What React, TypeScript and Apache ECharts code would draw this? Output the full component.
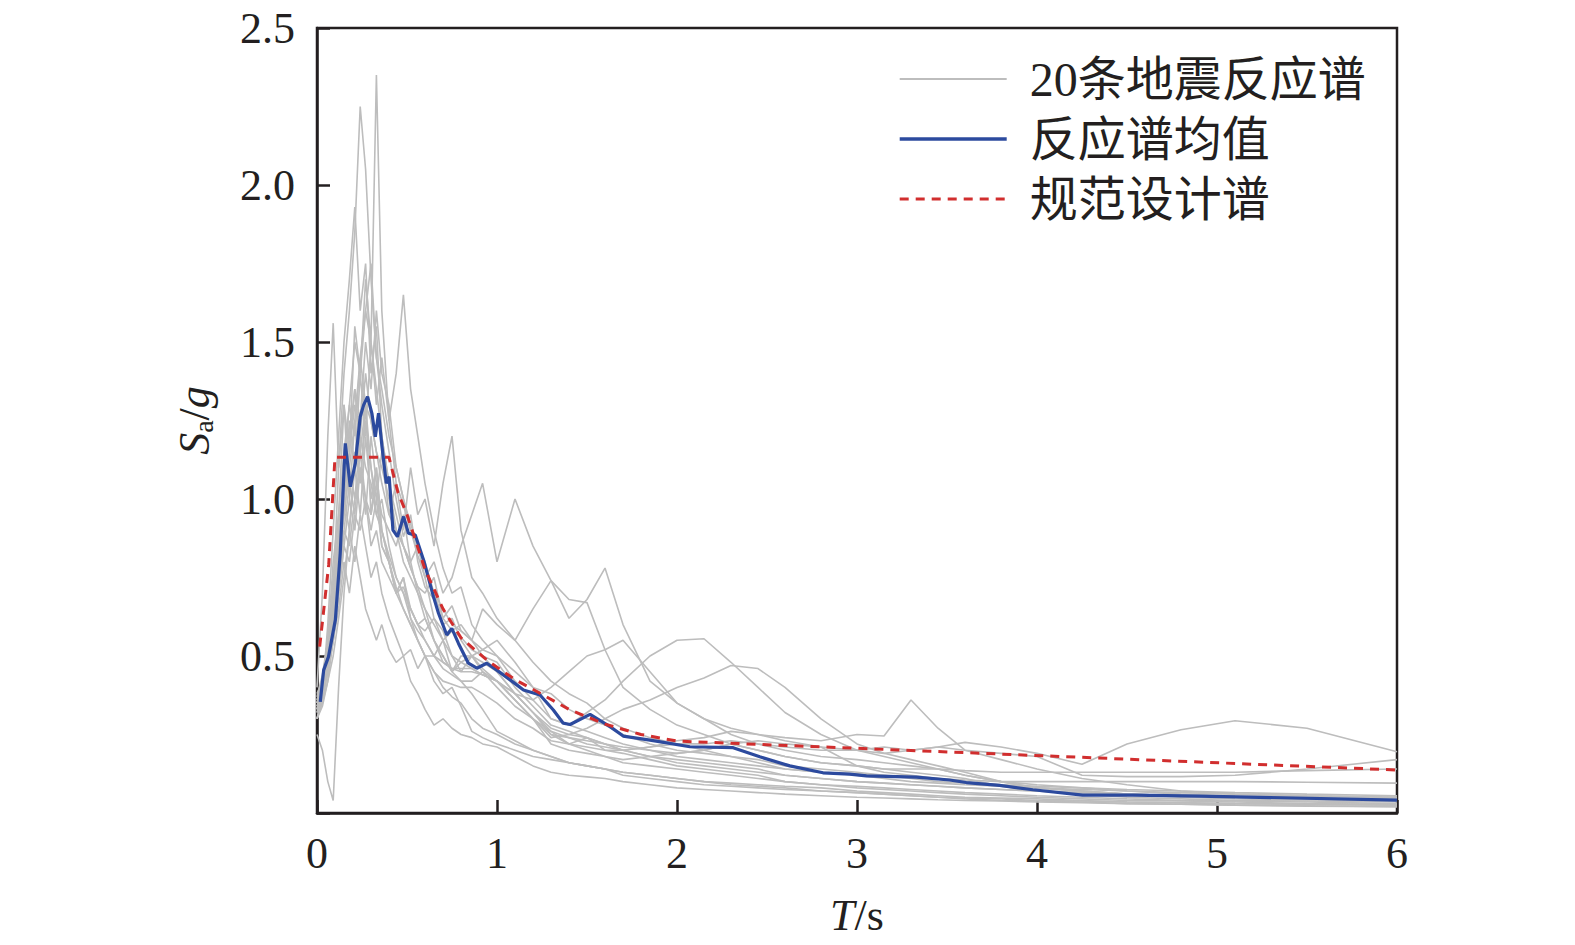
import { useEffect, useRef } from "react";
import * as echarts from "echarts";

// Shared period grid (s) for the 20 ground-motion response spectra
const periods = [
  0, 0.03, 0.06, 0.09, 0.12, 0.15, 0.18, 0.21, 0.24, 0.27,
  0.3, 0.33, 0.36, 0.4, 0.44, 0.48, 0.52, 0.56, 0.6, 0.65,
  0.7, 0.75, 0.8, 0.86, 0.92, 1.0, 1.1, 1.2, 1.3, 1.4,
  1.5, 1.6, 1.7, 1.85, 2.0, 2.15, 2.3, 2.45, 2.6, 2.8,
  3.0, 3.15, 3.3, 3.45, 3.6, 3.8, 4.0, 4.25, 4.5, 4.8,
  5.1, 5.5, 6.0,
];

const record01 = [0.35,0.42,0.55,0.8,0.95,1.3,1.15,1.55,1.4,1.7,1.5,2.35,1.6,1.25,1.05,0.98,0.9,0.82,0.75,0.62,0.58,0.5,0.48,0.46,0.44,0.42,0.36,0.3,0.26,0.22,0.24,0.2,0.19,0.17,0.15,0.14,0.13,0.12,0.1,0.09,0.085,0.08,0.075,0.07,0.065,0.06,0.055,0.05,0.045,0.04,0.038,0.035,0.03];
const record02 = [0.33,0.4,0.5,0.7,1.1,1.4,1.6,1.85,2.25,2.05,1.7,1.45,1.3,1.15,1.0,0.88,0.95,0.8,0.72,0.68,0.6,0.62,0.55,0.5,0.46,0.42,0.38,0.32,0.25,0.22,0.2,0.18,0.16,0.15,0.14,0.13,0.12,0.11,0.1,0.09,0.08,0.075,0.07,0.065,0.06,0.055,0.05,0.045,0.04,0.038,0.035,0.03,0.028];
const record03 = [0.3,0.38,0.6,0.9,1.2,1.5,1.7,1.93,1.6,1.75,1.4,1.55,1.2,1.05,0.9,0.85,0.78,0.72,0.7,0.75,0.62,0.66,0.58,0.55,0.5,0.45,0.38,0.32,0.27,0.25,0.24,0.22,0.2,0.18,0.17,0.16,0.15,0.14,0.12,0.11,0.1,0.095,0.09,0.085,0.08,0.075,0.07,0.065,0.06,0.055,0.05,0.045,0.04];
const record04 = [0.4,0.7,1.2,1.56,1.1,1.3,1.0,1.25,1.05,1.3,0.95,1.1,0.9,0.8,0.7,0.75,0.62,0.55,0.5,0.45,0.4,0.37,0.35,0.3,0.27,0.25,0.22,0.2,0.18,0.16,0.15,0.14,0.13,0.12,0.11,0.1,0.095,0.09,0.085,0.08,0.07,0.065,0.06,0.055,0.05,0.048,0.045,0.04,0.035,0.032,0.03,0.028,0.025];
const record05 = [0.32,0.36,0.45,0.6,0.85,1.0,1.25,1.1,1.4,1.2,1.5,1.3,1.45,1.25,1.4,1.65,1.35,1.2,1.05,0.9,0.78,0.7,0.72,0.6,0.55,0.5,0.45,0.4,0.38,0.33,0.3,0.28,0.25,0.22,0.2,0.19,0.18,0.16,0.14,0.13,0.12,0.11,0.1,0.095,0.09,0.085,0.08,0.075,0.07,0.065,0.06,0.055,0.05];
const record06 = [0.38,0.42,0.5,0.65,0.8,1.0,0.9,1.15,1.05,1.25,1.1,1.0,1.15,0.95,1.05,0.9,1.1,0.95,1.0,0.85,1.05,1.2,0.9,0.75,0.7,0.62,0.55,0.48,0.42,0.38,0.35,0.3,0.27,0.24,0.22,0.2,0.18,0.17,0.15,0.14,0.13,0.12,0.11,0.1,0.095,0.09,0.085,0.08,0.075,0.07,0.065,0.06,0.055];
const record07 = [0.36,0.4,0.48,0.55,0.7,0.9,0.85,1.0,1.1,0.95,1.2,1.05,0.95,0.9,0.85,0.95,0.8,0.85,0.75,0.8,0.7,0.75,0.85,0.95,1.05,0.8,1.0,0.85,0.74,0.62,0.68,0.78,0.6,0.42,0.35,0.3,0.27,0.25,0.23,0.21,0.15,0.13,0.12,0.11,0.1,0.09,0.08,0.07,0.06,0.055,0.05,0.045,0.04];
const record08 = [0.3,0.35,0.42,0.55,0.7,0.85,1.0,0.9,1.1,1.0,0.95,1.05,0.85,0.8,0.7,0.75,0.65,0.6,0.62,0.55,0.5,0.45,0.48,0.5,0.52,0.55,0.48,0.4,0.3,0.28,0.32,0.36,0.42,0.5,0.55,0.555,0.48,0.4,0.32,0.25,0.2,0.18,0.16,0.14,0.12,0.1,0.09,0.08,0.07,0.06,0.055,0.052,0.05];
const record09 = [0.34,0.4,0.52,0.7,0.9,1.05,1.2,1.35,1.15,1.3,1.1,0.95,1.0,0.85,0.75,0.7,0.62,0.58,0.55,0.5,0.48,0.46,0.45,0.45,0.44,0.42,0.36,0.3,0.24,0.25,0.27,0.3,0.33,0.36,0.4,0.43,0.47,0.46,0.4,0.3,0.22,0.19,0.17,0.15,0.13,0.1,0.08,0.07,0.06,0.055,0.05,0.048,0.045];
const record10 = [0.33,0.38,0.48,0.65,0.8,0.95,1.1,1.0,1.2,1.1,1.05,0.95,0.9,0.82,0.75,0.7,0.65,0.6,0.55,0.5,0.46,0.44,0.42,0.42,0.45,0.4,0.34,0.3,0.25,0.24,0.22,0.21,0.2,0.21,0.23,0.24,0.26,0.25,0.24,0.23,0.25,0.245,0.36,0.27,0.2,0.17,0.14,0.11,0.09,0.07,0.06,0.055,0.05];
const record11 = [0.3,0.36,0.45,0.6,0.75,0.9,1.05,0.95,1.15,1.0,0.9,1.0,0.85,0.8,0.7,0.65,0.6,0.55,0.5,0.45,0.42,0.41,0.4,0.4,0.38,0.35,0.3,0.27,0.23,0.22,0.21,0.2,0.2,0.21,0.22,0.22,0.23,0.22,0.21,0.2,0.2,0.21,0.2,0.21,0.225,0.21,0.19,0.155,0.22,0.265,0.294,0.27,0.195];
const record12 = [0.25,0.2,0.1,0.04,0.4,0.7,0.9,1.1,0.95,1.2,1.0,1.1,0.9,0.8,0.72,0.65,0.6,0.55,0.5,0.5,0.55,0.45,0.42,0.38,0.33,0.26,0.23,0.2,0.18,0.16,0.15,0.14,0.12,0.11,0.1,0.09,0.085,0.08,0.075,0.07,0.065,0.06,0.055,0.05,0.045,0.04,0.038,0.035,0.03,0.028,0.025,0.022,0.02];
const record13 = [0.35,0.4,0.45,0.55,0.65,0.8,0.7,0.85,0.75,0.65,0.6,0.55,0.6,0.52,0.48,0.5,0.42,0.38,0.33,0.28,0.3,0.27,0.25,0.24,0.22,0.21,0.18,0.15,0.13,0.12,0.115,0.11,0.1,0.09,0.08,0.075,0.07,0.065,0.06,0.055,0.05,0.048,0.045,0.042,0.04,0.038,0.035,0.033,0.03,0.028,0.025,0.023,0.02];
const record14 = [0.34,0.38,0.45,0.55,0.7,0.85,0.8,0.95,0.9,1.0,0.85,0.9,0.8,0.75,0.7,0.72,0.65,0.6,0.58,0.62,0.55,0.58,0.6,0.55,0.65,0.6,0.55,0.65,0.74,0.68,0.67,0.52,0.4,0.33,0.28,0.25,0.22,0.2,0.18,0.16,0.15,0.14,0.13,0.12,0.11,0.085,0.07,0.06,0.05,0.045,0.04,0.038,0.035];
const record15 = [0.32,0.38,0.5,0.65,0.85,1.0,1.15,1.3,1.2,1.4,1.25,1.15,1.05,0.95,0.9,0.8,0.75,0.7,0.65,0.6,0.55,0.5,0.45,0.5,0.45,0.42,0.38,0.36,0.4,0.45,0.5,0.52,0.55,0.45,0.35,0.3,0.25,0.22,0.2,0.18,0.17,0.16,0.15,0.14,0.12,0.1,0.08,0.07,0.06,0.05,0.045,0.042,0.04];
const record16 = [0.36,0.42,0.55,0.75,0.95,1.15,1.3,1.2,1.45,1.3,1.25,1.15,1.1,1.0,0.9,0.85,0.78,0.72,0.65,0.55,0.5,0.45,0.5,0.5,0.48,0.45,0.38,0.32,0.26,0.24,0.23,0.22,0.21,0.2,0.19,0.2,0.22,0.23,0.22,0.21,0.2,0.19,0.2,0.21,0.2,0.19,0.18,0.12,0.116,0.116,0.12,0.14,0.17];
const record17 = [0.33,0.4,0.5,0.62,0.8,0.95,1.1,1.25,1.45,1.6,1.5,1.35,1.2,1.05,0.95,0.85,0.8,0.7,0.62,0.55,0.48,0.46,0.46,0.46,0.44,0.42,0.36,0.3,0.22,0.2,0.19,0.18,0.17,0.18,0.19,0.2,0.22,0.2,0.18,0.16,0.15,0.14,0.14,0.14,0.135,0.13,0.13,0.13,0.13,0.13,0.13,0.135,0.14];
const record18 = [0.3,0.34,0.42,0.5,0.62,0.75,0.9,0.8,0.95,0.85,0.75,0.8,0.7,0.62,0.56,0.5,0.52,0.46,0.5,0.42,0.38,0.4,0.34,0.26,0.24,0.22,0.2,0.18,0.17,0.16,0.15,0.14,0.13,0.12,0.11,0.1,0.09,0.085,0.08,0.07,0.065,0.06,0.055,0.05,0.048,0.045,0.04,0.038,0.035,0.033,0.03,0.028,0.025];
const record19 = [0.35,0.42,0.55,0.72,0.9,1.1,1.3,1.5,1.4,1.6,1.75,1.45,1.35,1.2,1.1,1.0,0.92,0.85,0.78,0.7,0.65,0.6,0.58,0.55,0.52,0.5,0.42,0.36,0.3,0.28,0.26,0.24,0.22,0.2,0.18,0.17,0.16,0.15,0.14,0.13,0.125,0.12,0.115,0.11,0.105,0.1,0.1,0.1,0.1,0.1,0.1,0.098,0.095];
const record20 = [0.37,0.44,0.55,0.68,0.85,1.0,1.15,1.35,1.25,1.5,1.35,1.6,1.4,1.3,1.1,1.0,0.9,0.85,0.8,0.7,0.62,0.58,0.56,0.52,0.5,0.48,0.4,0.34,0.28,0.26,0.24,0.22,0.2,0.18,0.16,0.15,0.14,0.13,0.12,0.11,0.1,0.095,0.09,0.085,0.08,0.075,0.07,0.065,0.06,0.055,0.05,0.045,0.04];

const records = [
  record01, record02, record03, record04, record05, record06, record07, record08, record09, record10,
  record11, record12, record13, record14, record15, record16, record17, record18, record19, record20,
];

// Mean response spectrum
const meanPeriods = [0.018,0.037,0.064,0.102,0.129,0.157,0.185,0.213,0.24,0.259,0.281,0.305,0.324,0.342,0.361,0.385,0.401,0.422,0.447,0.481,0.508,0.546,0.592,0.647,0.675,0.721,0.749,0.786,0.841,0.888,0.943,0.999,1.073,1.147,1.239,1.313,1.368,1.406,1.517,1.628,1.701,1.85,2.072,2.312,2.46,2.627,2.811,2.959,3.052,3.33,3.514,3.607,3.792,3.977,4.254,4.532,4.902,6.0];
const meanValues = [0.354,0.455,0.498,0.615,0.827,1.177,1.039,1.114,1.262,1.299,1.326,1.273,1.198,1.273,1.167,1.05,1.071,0.901,0.88,0.944,0.891,0.885,0.806,0.689,0.636,0.567,0.588,0.54,0.477,0.461,0.477,0.455,0.424,0.392,0.376,0.328,0.286,0.282,0.314,0.275,0.245,0.232,0.211,0.208,0.179,0.15,0.128,0.124,0.118,0.114,0.105,0.097,0.088,0.074,0.057,0.057,0.054,0.041];

// Code design spectrum
const designPeriods = [0.015, 0.065, 0.1, 0.4, 0.45, 0.5, 0.6, 0.7, 0.8, 0.95, 1.1, 1.25, 1.4, 1.6, 1.8, 2.0, 6.0];
const designValues = [0.53, 0.79, 1.133, 1.133, 1.02, 0.95, 0.776, 0.65, 0.558, 0.484, 0.425, 0.378, 0.33, 0.283, 0.25, 0.229, 0.137];

const seriesNames = ["20条地震反应谱", "反应谱均值", "规范设计谱"];

const INK = "#231f20";
const GRAY = "#bdbdbd";
const BLUE = "#2c4a9e";
const RED = "#d12e2e";
const SERIF = '"Liberation Serif", "Times New Roman", serif';
const MIXED = '"Liberation Serif", "Noto Sans CJK SC", serif';

export default function App() {
  const ref = useRef<HTMLDivElement>(null);

  useEffect(() => {
    if (!ref.current) return;
    const chart = echarts.init(ref.current, null, { renderer: "svg" });

    const graySeries = records.map((rec) => ({
      name: seriesNames[0],
      type: "line",
      data: periods.map((t, i) => [t, rec[i]]),
      symbol: "none",
      silent: true,
      z: 2,
      lineStyle: { color: GRAY, width: 1.6 },
      itemStyle: { color: GRAY },
    }));

    const option = {
      animation: false,
      backgroundColor: "#ffffff",
      grid: {
        left: 317,
        top: 28,
        right: 178,
        bottom: 132,
        show: true,
        borderColor: INK,
        borderWidth: 2.5,
        backgroundColor: "transparent",
      },
      legend: {
        data: [
          { name: seriesNames[0], lineStyle: { color: GRAY, width: 2 } },
          { name: seriesNames[1], lineStyle: { color: BLUE, width: 3.4 } },
          { name: seriesNames[2], lineStyle: { color: RED, width: 3.2, type: [9, 7] } },
        ],
        orient: "vertical",
        left: 893,
        top: 50,
        itemWidth: 107,
        itemHeight: 14,
        itemGap: 12,
        selectedMode: false,
        itemStyle: { opacity: 0, color: "rgba(0,0,0,0)", borderWidth: 0 },
        textStyle: {
          fontSize: 48,
          fontFamily: MIXED,
          color: INK,
          padding: [0, 0, 0, 18],
        },
      },
      xAxis: {
        type: "value",
        min: 0,
        max: 6,
        interval: 1,
        splitLine: { show: false },
        axisLine: { show: true, lineStyle: { color: INK, width: 2.5 } },
        axisTick: { show: true, inside: true, length: 13, lineStyle: { color: INK, width: 2.5 } },
        axisLabel: { fontSize: 44, fontFamily: SERIF, color: INK, margin: 18 },
        name: "{i|T}/s",
        nameLocation: "middle",
        nameGap: 80,
        nameTextStyle: {
          fontSize: 44,
          fontFamily: SERIF,
          color: INK,
          rich: { i: { fontSize: 44, fontFamily: SERIF, fontStyle: "italic", color: INK } },
        },
      },
      yAxis: {
        type: "value",
        min: 0,
        max: 2.5,
        interval: 0.5,
        splitLine: { show: false },
        axisLine: { show: true, lineStyle: { color: INK, width: 2.5 } },
        axisTick: { show: true, inside: true, length: 13, lineStyle: { color: INK, width: 2.5 } },
        axisLabel: {
          fontSize: 44,
          fontFamily: SERIF,
          color: INK,
          margin: 22,
          formatter: (v: number) => (v === 0 ? "" : v.toFixed(1)),
        },
        name: "{i|S}{sub|a}/{i|g}",
        nameLocation: "middle",
        nameRotate: 90,
        nameGap: 100,
        nameTextStyle: {
          fontSize: 44,
          fontFamily: SERIF,
          color: INK,
          rich: {
            i: { fontSize: 44, fontFamily: SERIF, fontStyle: "italic", color: INK },
            sub: { fontSize: 28, fontFamily: SERIF, color: INK, padding: [18, 0, 0, 0] },
          },
        },
      },
      series: [
        ...graySeries,
        {
          name: seriesNames[1],
          type: "line",
          data: meanPeriods.map((t, i) => [t, meanValues[i]]),
          symbol: "none",
          z: 3,
          lineStyle: { color: BLUE, width: 3.2 },
          itemStyle: { color: BLUE },
        },
        {
          name: seriesNames[2],
          type: "line",
          data: designPeriods.map((t, i) => [t, designValues[i]]),
          symbol: "none",
          z: 4,
          lineStyle: { color: RED, width: 3, type: [9, 7] },
          itemStyle: { color: RED },
        },
      ],
    };

    chart.setOption(option as any);
    return () => chart.dispose();
  }, []);

  return (
    <div
      ref={ref}
      style={{ position: "fixed", left: 0, top: 0, width: 1575, height: 945, background: "#fff" }}
    />
  );
}
